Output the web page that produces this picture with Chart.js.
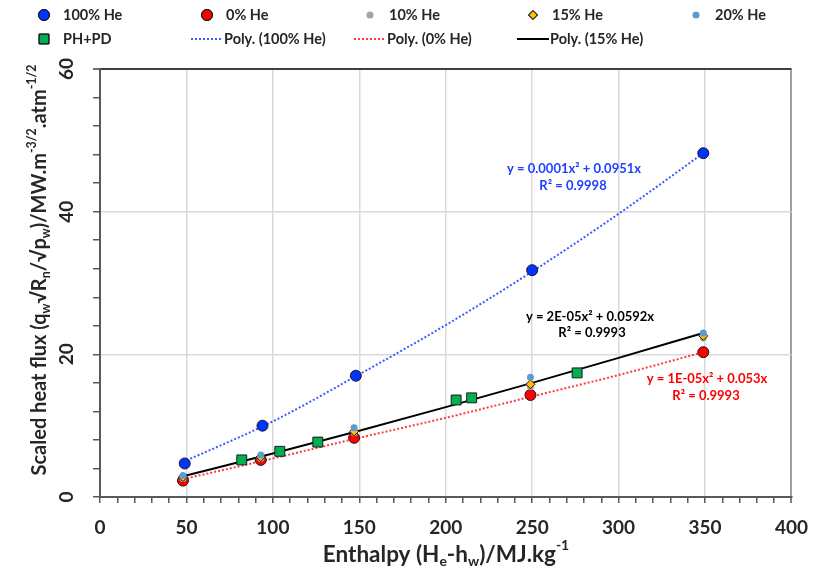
<!DOCTYPE html>
<html>
<head>
<meta charset="utf-8">
<script src="https://cdn.jsdelivr.net/npm/chart.js@4.4.1/dist/chart.umd.min.js"></script>
<style>
  html, body { margin: 0; padding: 0; background: #fff; }
  #wrap { width: 821px; height: 576px; position: relative; }
</style>
</head>
<body>
<div id="wrap"><canvas id="chart"></canvas></div>
<script>
/* ---------- data ---------- */
const xHe100 = [49, 94, 148, 250, 349];
const xHe = [48, 93, 147, 249, 349];
const yHe100 = [4.7, 10.0, 17.0, 31.8, 48.2];
const yHe0 = [2.3, 5.2, 8.3, 14.3, 20.3];
const yHe10 = [2.6, 5.4, 9.0, 15.5, 22.3];
const yHe15 = [2.8, 5.6, 9.2, 15.8, 22.6];
const yHe20 = [3.0, 5.9, 9.7, 16.8, 23.0];
const phX = [82, 104, 126, 206, 215, 276];
const phY = [5.2, 6.4, 7.7, 13.6, 13.9, 17.4];

const fitX = [48, 100, 150, 200, 250, 300, 349];
const fit100 = [4.9, 10.6, 17.2, 24.1, 31.6, 39.7, 48.2];
const fit0 = [2.5, 5.4, 8.3, 11.1, 14.1, 17.1, 20.3];
const fit15 = [2.9, 6.1, 9.3, 12.6, 16.0, 19.5, 23.0];

const xTicks = [0, 50, 100, 150, 200, 250, 300, 350, 400];
const yTicks = [0, 20, 40, 60];

const FONT = 'Lato, "Open Sans", "DejaVu Sans", sans-serif';
const pts = (xs, ys) => xs.map((x, i) => ({ x: x, y: ys[i] }));

/* ---------- helpers ---------- */
// draws text made of normal / sub / sup parts, centred on x
function richText(ctx, parts, x, y, size) {
  const widths = parts.map(p => {
    ctx.font = 'bold ' + (p[1] === 'n' ? size : size * 0.62) + 'px ' + FONT;
    return ctx.measureText(p[0]).width;
  });
  let cx = x - widths.reduce((a, b) => a + b, 0) / 2;
  parts.forEach((p, i) => {
    const s = p[1] === 'n' ? size : size * 0.62;
    const dy = p[1] === 'b' ? size * 0.28 : p[1] === 'p' ? -size * 0.42 : 0;
    ctx.font = 'bold ' + s + 'px ' + FONT;
    ctx.fillText(p[0], cx, y + dy);
    cx += widths[i];
  });
}

const legendSlots = [
  [44, 15], [207, 15], [370, 15], [533, 15], [696, 15],
  [44, 39], [207, 39], [370, 39], [533, 39]
];

const decorPlugin = {
  id: 'decor',
  afterDraw(chart) {
    const ctx = chart.ctx;
    const ys = chart.scales.y;
    ctx.save();
    ctx.textBaseline = 'middle';
    ctx.fillStyle = '#262626';

    // y tick labels, rotated
    yTicks.forEach(v => {
      ctx.save();
      ctx.translate(67, ys.getPixelForValue(v));
      ctx.rotate(-Math.PI / 2);
      ctx.textAlign = 'center';
      ctx.font = 'bold 19px ' + FONT;
      ctx.fillText(String(v), 0, 0);
      ctx.restore();
    });

    // axis titles
    ctx.textAlign = 'left';
    richText(ctx, [['Enthalpy (H', 'n'], ['e', 'b'], ['-h', 'n'], ['w', 'b'], [')/MJ.kg', 'n'], ['-1', 'p']],
      446, 555, 22.5);
    ctx.save();
    ctx.translate(40, 270);
    ctx.rotate(-Math.PI / 2);
    richText(ctx, [['Scaled heat flux (q', 'n'], ['w', 'b'], ['\u221AR', 'n'], ['n', 'b'], ['/\u221Ap', 'n'], ['w', 'b'],
      [')/MW.m', 'n'], ['-3/2', 'p'], ['.atm', 'n'], ['-1/2', 'p']], 0, 0, 20);
    ctx.restore();

    // trend line equations
    ctx.fillStyle = '#1f3fff';
    richText(ctx, [['y = 0.0001x\u00B2 + 0.0951x', 'n']], 574, 169, 13);
    richText(ctx, [['R\u00B2 = 0.9998', 'n']], 573, 186, 13);
    ctx.fillStyle = '#000';
    richText(ctx, [['y = 2E-05x\u00B2 + 0.0592x', 'n']], 590, 317, 13);
    richText(ctx, [['R\u00B2 = 0.9993', 'n']], 592, 333, 13);
    ctx.fillStyle = '#ff0000';
    richText(ctx, [['y = 1E-05x\u00B2 + 0.053x', 'n']], 707, 379, 13);
    richText(ctx, [['R\u00B2 = 0.9993', 'n']], 706, 396, 13);

    // legend
    chart.data.datasets.forEach((ds, i) => {
      const [lx, ly] = legendSlots[i];
      if (ds.showLine) {
        ctx.strokeStyle = ds.borderColor;
        ctx.lineWidth = ds.borderWidth;
        ctx.setLineDash(ds.borderDash || []);
        ctx.beginPath();
        ctx.moveTo(lx - 16, ly);
        ctx.lineTo(lx + 16, ly);
        ctx.stroke();
        ctx.setLineDash([]);
      } else {
        ctx.fillStyle = ds.backgroundColor;
        ctx.strokeStyle = ds.borderColor;
        ctx.lineWidth = ds.borderWidth;
        Chart.helpers.drawPoint(ctx, { pointStyle: ds.pointStyle, radius: ds.pointRadius, borderWidth: ds.borderWidth }, lx, ly);
        if (ds.borderWidth > 0) ctx.stroke();
      }
      ctx.fillStyle = '#262626';
      ctx.font = 'bold 14.5px ' + FONT;
      ctx.textAlign = 'left';
      ctx.fillText(ds.label, ds.showLine ? lx + 17 : lx + 19, ly);
    });
    ctx.restore();
  }
};

function pointSet(label, data, color, style, r, bw, order) {
  return {
    label: label, data: data, showLine: false, order: order,
    backgroundColor: color, borderColor: bw ? '#1a1a1a' : color, borderWidth: bw,
    pointStyle: style, pointRadius: r, pointHoverRadius: r
  };
}
function lineSet(label, data, color, dash, order) {
  return {
    label: label, data: data, showLine: true, order: order,
    borderColor: color, borderWidth: 2, borderDash: dash, pointRadius: 0,
    cubicInterpolationMode: 'monotone', fill: false
  };
}

new Chart(document.getElementById('chart'), {
  type: 'scatter',
  data: {
    datasets: [
      pointSet('100% He', pts(xHe100, yHe100), '#0033ff', 'circle', 5.5, 1, 5),
      pointSet('0% He', pts(xHe, yHe0), '#ff0000', 'circle', 5.5, 1, 4),
      pointSet('10% He', pts(xHe, yHe10), '#a5a5a5', 'circle', 3.5, 0, 3),
      pointSet('15% He', pts(xHe, yHe15), '#ffc000', 'rectRot', 4.5, 1, 2),
      pointSet('20% He', pts(xHe, yHe20), '#5b9bd5', 'circle', 3.5, 0, 1),
      pointSet('PH+PD', pts(phX, phY), '#00b050', 'rect', 7, 1, 0),
      lineSet('Poly. (100% He)', pts(fitX, fit100), '#3d5cff', [2, 2], 10),
      lineSet('Poly. (0% He)', pts(fitX, fit0), '#ff3b3b', [2, 2], 10),
      lineSet('Poly. (15% He)', pts(fitX, fit15), '#000000', [], 9)
    ]
  },
  options: {
    responsive: true,
    maintainAspectRatio: false,
    animation: false,
    layout: { padding: { left: 0, top: 69, right: 27, bottom: 0 } },
    plugins: { legend: { display: false }, tooltip: { enabled: false } },
    scales: {
      x: {
        type: 'linear', min: 0, max: 400,
        afterFit: s => { s.height = 79; },
        afterBuildTicks: s => { s.ticks = Array.from({ length: 41 }, (_, i) => ({ value: i * 10 })); },
        border: { color: '#595959', width: 2 },
        grid: {
          color: c => c.tick.value === 400 ? '#a0a0a0' : (c.tick.value % 50 === 0 ? '#d9d9d9' : 'rgba(0,0,0,0)'),
          lineWidth: c => c.tick.value === 400 ? 2 : 1.5,
          tickColor: '#595959', tickLength: 6, tickWidth: 1.5
        },
        ticks: {
          autoSkip: false, maxRotation: 0, padding: 13, color: '#262626',
          font: { family: FONT, size: 19, weight: 'bold' },
          callback: v => xTicks.includes(v) ? String(v) : ''
        }
      },
      y: {
        type: 'linear', min: 0, max: 60,
        afterFit: s => { s.width = 100; },
        afterBuildTicks: s => { s.ticks = Array.from({ length: 16 }, (_, i) => ({ value: i * 4 })); },
        border: { color: '#595959', width: 2 },
        grid: {
          color: c => c.tick.value === 60 ? '#404040' : (c.tick.value % 20 === 0 ? '#d9d9d9' : 'rgba(0,0,0,0)'),
          lineWidth: c => c.tick.value === 60 ? 2 : 1.5,
          tickColor: c => c.tick.value === 60 ? '#404040' : '#595959', tickLength: 7, tickWidth: 1.5
        },
        ticks: { display: false }
      }
    }
  },
  plugins: [decorPlugin]
});
</script>
</body>
</html>
